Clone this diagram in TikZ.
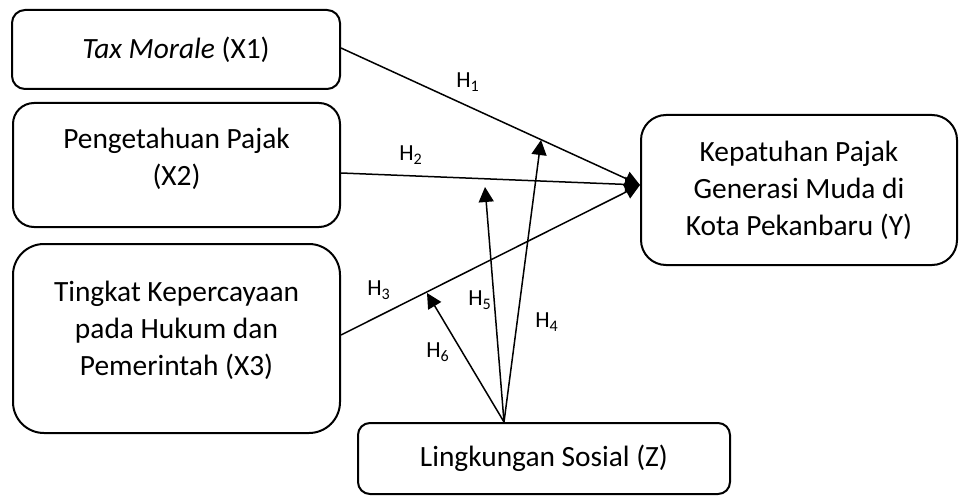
\documentclass[tikz,border=0pt]{standalone}
\usepackage{fontspec}
\setmainfont{Carlito}
\usetikzlibrary{arrows.meta}

\begin{document}
\begin{tikzpicture}[
    x=0.5pt, y=-0.5pt,
    var/.style={draw, line width=1pt, align=center, inner sep=0pt,
        font=\fontsize{14.7}{18.5}\selectfont},
    hyp/.style={font=\fontsize{11.5}{13}\selectfont, inner sep=1pt},
    link/.style={line width=0.75pt, -{Triangle[length=7.5pt, width=7.5pt]}}
]
    \useasboundingbox (0,0) rectangle (961,497);

    % Independent variables (left)
    \node[var, rounded corners=6.5pt, minimum width=164pt, minimum height=39.5pt]
        (x1) at (176,49.5) {\textit{Tax Morale} (X1)};
    \node[var, rounded corners=10.5pt, minimum width=163.5pt, minimum height=62pt,
        text depth=8pt] (x2) at (176.5,165) {Pengetahuan Pajak\\(X2)};
    \node[var, rounded corners=15.5pt, minimum width=163.5pt, minimum height=94.5pt,
        text depth=10pt] (x3) at (176.5,338.5) {Tingkat Kepercayaan\\pada Hukum dan\\Pemerintah (X3)};

    % Dependent and moderating variables
    \node[var, rounded corners=12.5pt, minimum width=158pt, minimum height=75pt]
        (y) at (799,190) {Kepatuhan Pajak\\Generasi Muda di\\Kota Pekanbaru (Y)};
    \node[var, rounded corners=6pt, minimum width=186pt, minimum height=35.5pt]
        (z) at (544,458.5) {Lingkungan Sosial (Z)};

    % Ends of the moderating arrows
    \coordinate (zsrc) at (504,422);
    \coordinate (m4) at (541,140);
    \coordinate (m5) at (485,187);
    \coordinate (m6) at (427,293);

    % Direct effects
    \draw[link] ([yshift=0.75pt]x1.east) -- ([yshift=2.5pt]y.west);
    \draw[link] ([yshift=-4pt]x2.east) -- ([yshift=2.5pt]y.west);
    \draw[link] ([yshift=1.75pt]x3.east) -- ([yshift=2.5pt]y.west);

    % Moderating effects
    \draw[link] (zsrc) -- (m4);
    \draw[link] (zsrc) -- (m5);
    \draw[link] (zsrc) -- (m6);

    % Hypothesis labels
    \node[hyp] (h1) at (468,82) {H\textsubscript{1}};
    \node[hyp] (h2) at (411,155) {H\textsubscript{2}};
    \node[hyp] (h3) at (379,290) {H\textsubscript{3}};
    \node[hyp] (h4) at (547,322) {H\textsubscript{4}};
    \node[hyp] (h5) at (480,300) {H\textsubscript{5}};
    \node[hyp] (h6) at (438,352) {H\textsubscript{6}};
\end{tikzpicture}
\end{document}
